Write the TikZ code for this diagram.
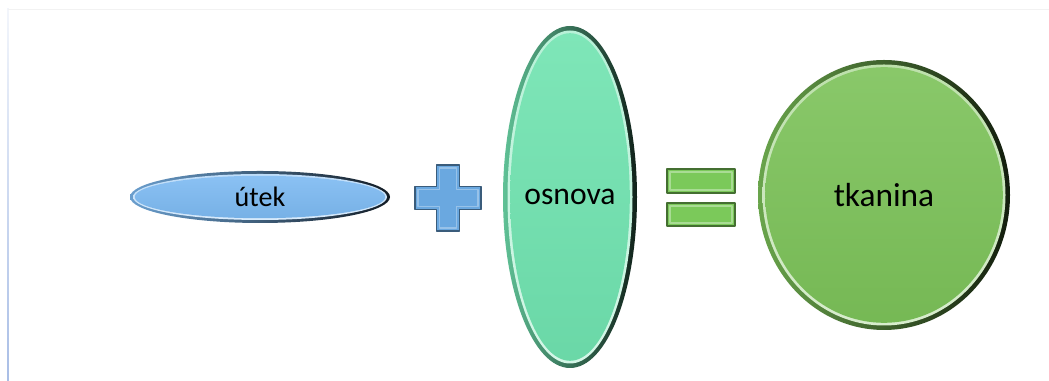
\documentclass[tikz,border=0pt]{standalone}
\usepackage{fontspec}
\setmainfont{Carlito}
\usepackage{xcolor}
\usepackage{tikz}
\usetikzlibrary{calc}
\definecolor{UtekBlue}{HTML}{7DBAF2}
\definecolor{OsnovaGreen}{HTML}{70E3B0}
\definecolor{TkaninaGreen}{HTML}{7CC259}
\definecolor{PlusBlue}{HTML}{6AA8E0}
\definecolor{EqualGreen}{HTML}{7BC95A}
\definecolor{FrameBlue}{HTML}{A9BEE6}
\newcommand{\GlossyOval}[7][6]{
	\def\lrim{#1}
	\def\lpin{#2}
	\def\lfill{#3}
	\def\lrx{#4}
	\def\lry{#5}
	\def\lsize{#6}
	\def\ltext{#7}
	\begin{scope}[shift={(\lpin)}]
		\shade[left color=\lfill!85!black, middle color=\lfill!75!black, right color=\lfill!15!black] (0,0) ellipse [x radius=\lrx, y radius=\lry];
		\shade[top color=\lfill!50!white, bottom color=\lfill!30!white] (0,0) ellipse [x radius=\lrx-0.5*\lrim, y radius=\lry-0.5*\lrim];
		\shade[top color=\lfill!90!white, bottom color=\lfill!95!black] (0,0) ellipse [x radius=\lrx-0.8*\lrim, y radius=\lry-0.8*\lrim];
	\end{scope}
	\node (\lpin-text) at (\lpin) {\fontsize{\lsize}{\lsize}\selectfont \ltext};
}
\newcommand{\BevelCross}[4]{
	\def\lpin{#1}
	\def\llen{#2}
	\def\larm{#3}
	\def\lfill{#4}
	\begin{scope}[shift={(\lpin)}]
		\filldraw[fill=\lfill, draw=\lfill!55!black, line width=0.8pt] (-\larm,\llen) -- (\larm,\llen) -- (\larm,\larm) -- (\llen,\larm) -- (\llen,-\larm) -- (\larm,-\larm) -- (\larm,-\llen) -- (-\larm,-\llen) -- (-\larm,-\larm) -- (-\llen,-\larm) -- (-\llen,\larm) -- (-\larm,\larm) -- cycle;
		\draw[\lfill!70!white, line width=0.8pt] (-\larm+3,\llen-3) -- (\larm-3,\llen-3) -- (\larm-3,\larm-3) -- (\llen-3,\larm-3) -- (\llen-3,-\larm+3) -- (\larm-3,-\larm+3) -- (\larm-3,-\llen+3) -- (-\larm+3,-\llen+3) -- (-\larm+3,-\larm+3) -- (-\llen+3,-\larm+3) -- (-\llen+3,\larm-3) -- (-\larm+3,\larm-3) -- cycle;
	\end{scope}
}
\newcommand{\BevelBar}[3]{
	\filldraw[fill=#3, draw=#3!55!black, line width=0.8pt] (#1) rectangle (#2);
	\draw[#3!65!white, line width=0.8pt] ($ (#1)+(3,3) $) rectangle ($ (#2)-(3,3) $);
}

\begin{document}
\begin{tikzpicture}[x=0.02cm, y=0.02cm, line join=round]

	\useasboundingbox (0,0) rectangle (1049,381);

	\shade[top color=FrameBlue!15!white, bottom color=FrameBlue] (7.2,0) rectangle (8.8,372);
	\draw[black!5] (8,372) -- (1049,372);

	\coordinate (utek) at (260,184);
	\coordinate (plus) at (448,183);
	\coordinate (osnova) at (570,184);
	\coordinate (equal) at (701,183);
	\coordinate (tkanina) at (884,186);

	\coordinate (bar1-sw) at ($ (equal)+(-34,5) $);
	\coordinate (bar1-ne) at ($ (equal)+(34,29) $);
	\coordinate (bar2-sw) at ($ (equal)+(-34,-28) $);
	\coordinate (bar2-ne) at ($ (equal)+(34,-5) $);

	\GlossyOval[6]{utek}{UtekBlue}{130}{26}{16pt}{útek}
	\BevelCross{plus}{33}{11.5}{PlusBlue}
	\GlossyOval[9]{osnova}{OsnovaGreen}{67}{171}{18pt}{osnova}
	\BevelBar{bar1-sw}{bar1-ne}{EqualGreen}
	\BevelBar{bar2-sw}{bar2-ne}{EqualGreen}
	\GlossyOval[9]{tkanina}{TkaninaGreen}{126}{135}{19pt}{tkanina}

\end{tikzpicture}
\end{document}
